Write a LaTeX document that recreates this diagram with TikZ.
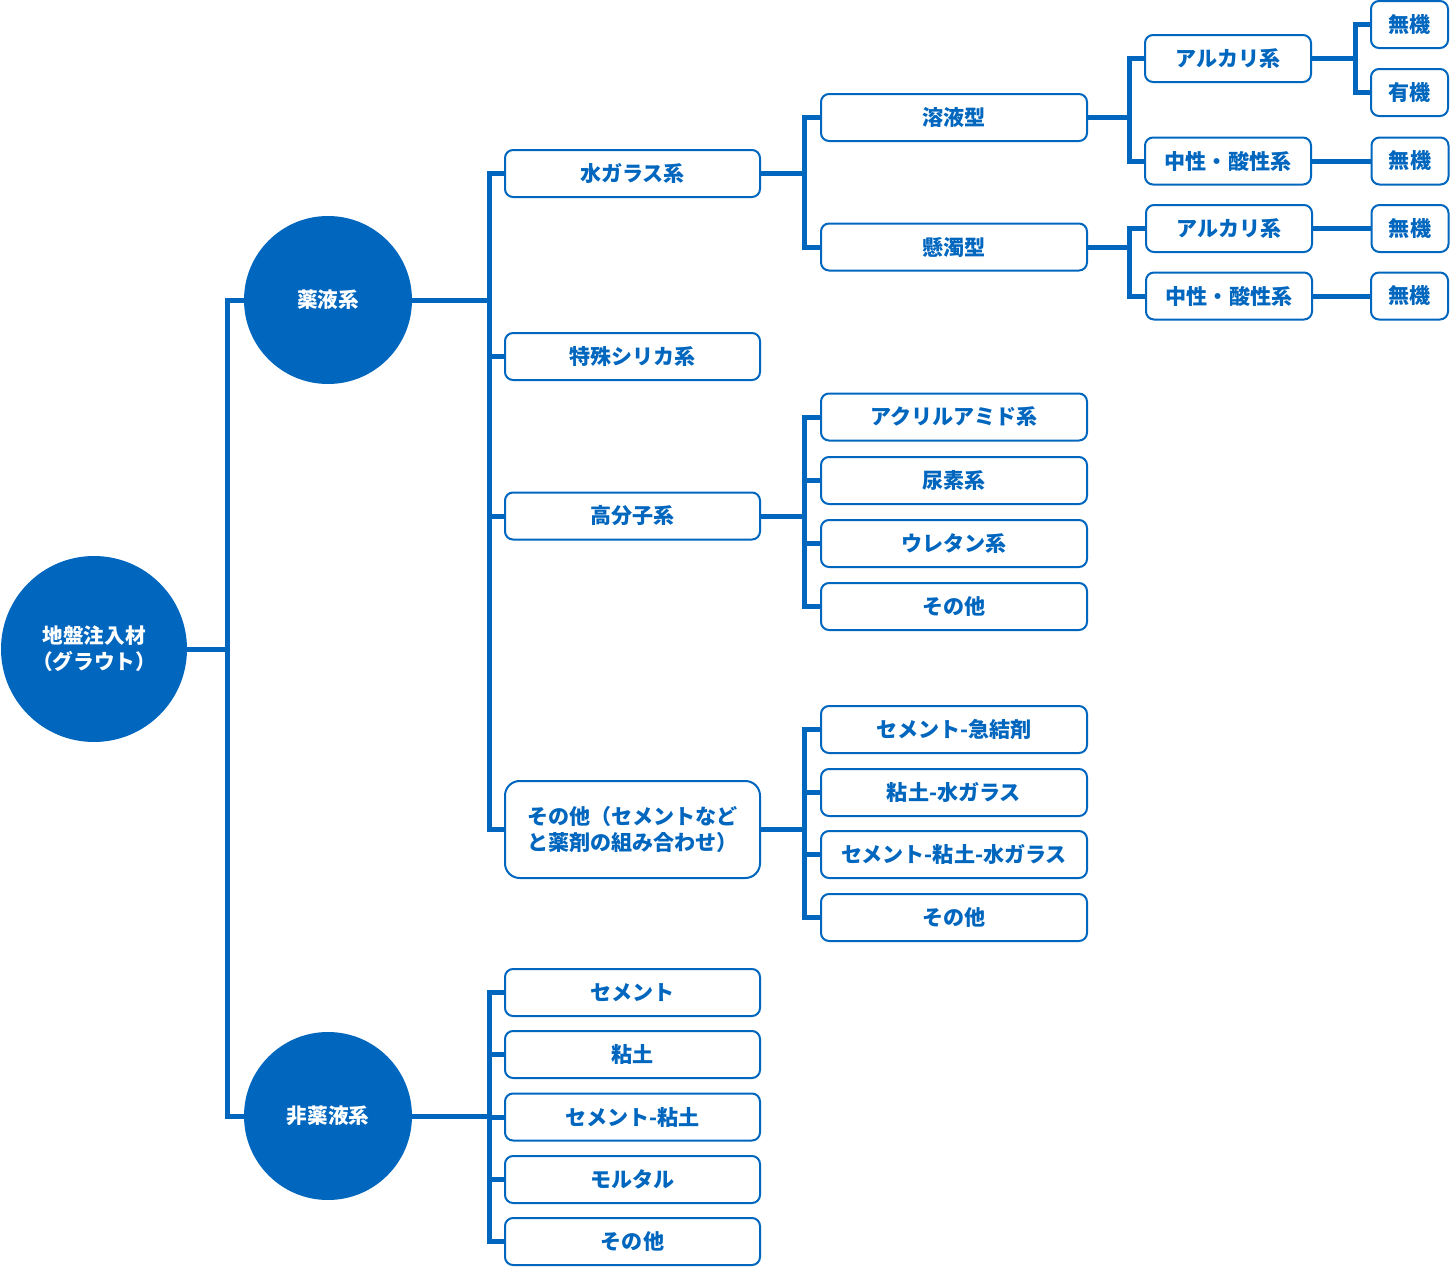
\documentclass[tikz,border=0pt]{standalone}
\usepackage{fontspec}
\setmainfont{Noto Sans CJK JP}
\usetikzlibrary{backgrounds}
\definecolor{gb}{RGB}{0,102,190}
\begin{document}
\begin{tikzpicture}[x=0.75pt,y=-0.75pt,
  conn/.style={draw=gb, line width=3.75pt},
  spine/.style={draw=gb, line width=3.75pt, line cap=rect},
  circ/.style={circle, fill=gb, text=white, inner sep=0pt, font=\bfseries\fontsize{15.5}{19.5}\selectfont},
  boxbase/.style={draw=gb, line width=1.5pt, fill=white, text=gb, rounded corners=6pt, inner sep=0pt, minimum height=35.25pt, font=\bfseries\fontsize{15.8}{19.5}\selectfont},
  bA/.style={boxbase, minimum width=191.25pt},
  bB/.style={boxbase, minimum width=199.5pt},
  bC/.style={boxbase, minimum width=124.5pt},
  bD/.style={boxbase, minimum width=57.75pt},
]
\useasboundingbox (0,0) rectangle (1450,1267);

% circles
\node[circ, minimum size=139.5pt, align=center] (root) at (94,649) {地盤注入材\\（グラウト）};
\node[circ, minimum size=126pt] (yk) at (328,300) {薬液系};
\node[circ, minimum size=126pt] (hy) at (328,1116) {非薬液系};

% level 2
\node[bA] (sg) at (632.5,173.5) {水ガラス系};
\node[bA] (ts) at (632.5,356.5) {特殊シリカ系};
\node[bA] (kb) at (632.5,516) {高分子系};
\node[bA, minimum height=72.75pt, rounded corners=11pt, align=left] (so) at (632.5,829.5) {その他（セメントなど\\と薬剤の組み合わせ）};

\node[bA] (n1) at (632.5,992.5) {セメント};
\node[bA] (n2) at (632.5,1054.5) {粘土};
\node[bA] (n3) at (632.5,1117) {セメント-粘土};
\node[bA] (n4) at (632.5,1179.5) {モルタル};
\node[bA] (n5) at (632.5,1241.5) {その他};

% level 3
\node[bB] (yo) at (954,117.5) {溶液型};
\node[bB] (kd) at (954,247) {懸濁型};
\node[bB] (k1) at (954,417) {アクリルアミド系};
\node[bB] (k2) at (954,480.5) {尿素系};
\node[bB] (k3) at (954,543.5) {ウレタン系};
\node[bB] (k4) at (954,606.5) {その他};
\node[bB] (o1) at (954,729.5) {セメント-急結剤};
\node[bB] (o2) at (954,792.5) {粘土-水ガラス};
\node[bB] (o3) at (954,854.5) {セメント-粘土-水ガラス};
\node[bB] (o4) at (954,917.5) {その他};

% level 4
\node[bC] (a1) at (1228,58.5) {アルカリ系};
\node[bC] (c1) at (1228,161) {中性・酸性系};
\node[bC] (a2) at (1229,228.5) {アルカリ系};
\node[bC] (c2) at (1229,296) {中性・酸性系};

% level 5
\node[bD] (m1) at (1409.5,24.5) {無機};
\node[bD] (u1) at (1409.5,92.5) {有機};
\node[bD] (m2) at (1410,161) {無機};
\node[bD] (m3) at (1410,228.5) {無機};
\node[bD] (m4) at (1409.5,296) {無機};

% spine coordinates
\coordinate (x0) at (227,0);
\coordinate (x1) at (489,0);
\coordinate (x2) at (804,0);
\coordinate (x3) at (1129,0);
\coordinate (x4) at (1355,0);

\begin{pgfonlayer}{background}
% root
\draw[conn] (root.east) -- (root.east -| x0);
\draw[spine] (yk.west -| x0) -- (hy.west -| x0);
\draw[conn] (yk.west -| x0) -- (yk.west);
\draw[conn] (hy.west -| x0) -- (hy.west);

% chemical
\draw[conn] (yk.east) -- (yk.east -| x1);
\draw[spine] (sg.west -| x1) -- (so.west -| x1);
\foreach \n in {sg,ts,kb,so} \draw[conn] (\n.west -| x1) -- (\n.west);

% non-chemical
\draw[conn] (hy.east) -- (hy.east -| x1);
\draw[spine] (n1.west -| x1) -- (n5.west -| x1);
\foreach \n in {n1,n2,n3,n4,n5} \draw[conn] (\n.west -| x1) -- (\n.west);

% water glass
\draw[conn] (sg.east) -- (sg.east -| x2);
\draw[spine] (yo.west -| x2) -- (kd.west -| x2);
\foreach \n in {yo,kd} \draw[conn] (\n.west -| x2) -- (\n.west);

% polymer
\draw[conn] (kb.east) -- (kb.east -| x2);
\draw[spine] (k1.west -| x2) -- (k4.west -| x2);
\foreach \n in {k1,k2,k3,k4} \draw[conn] (\n.west -| x2) -- (\n.west);

% other
\draw[conn] (so.east) -- (so.east -| x2);
\draw[spine] (o1.west -| x2) -- (o4.west -| x2);
\foreach \n in {o1,o2,o3,o4} \draw[conn] (\n.west -| x2) -- (\n.west);

% solution type
\draw[conn] (yo.east) -- (yo.east -| x3);
\draw[spine] (a1.west -| x3) -- (c1.west -| x3);
\foreach \n in {a1,c1} \draw[conn] (\n.west -| x3) -- (\n.west);

% suspension type
\draw[conn] (kd.east) -- (kd.east -| x3);
\draw[spine] (a2.west -| x3) -- (c2.west -| x3);
\foreach \n in {a2,c2} \draw[conn] (\n.west -| x3) -- (\n.west);

% level 5
\draw[conn] (a1.east) -- (a1.east -| x4);
\draw[spine] (m1.west -| x4) -- (u1.west -| x4);
\foreach \n in {m1,u1} \draw[conn] (\n.west -| x4) -- (\n.west);
\draw[conn] (c1.east) -- (m2.west);
\draw[conn] (a2.east) -- (m3.west);
\draw[conn] (c2.east) -- (m4.west);
\end{pgfonlayer}
\end{tikzpicture}
\end{document}
